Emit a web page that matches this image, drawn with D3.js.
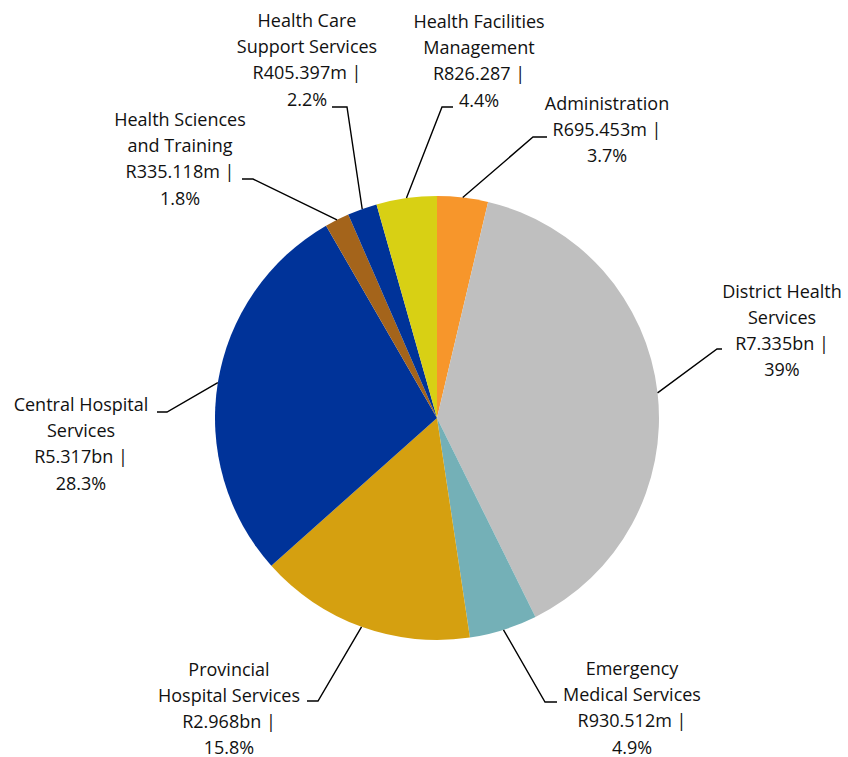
<!DOCTYPE html>
<html lang="en">
<head>
    <meta charset="UTF-8">
    <title>Health budget by programme</title>
    <script src="https://d3js.org/d3.v7.min.js"></script>
    <style>
        body { margin: 0; background: #fff; }
        .label { font-family: "Open Sans", Lato, sans-serif; font-size: 18px; fill: #111; }
        .leader { fill: none; stroke: #000; stroke-width: 1.4px; }
    </style>
</head>
<body>
    <svg width="848" height="757"></svg>
    <script>
        // programmes, clockwise from 12 o'clock
        const names = [
            ["Administration"],
            ["District Health", "Services"],
            ["Emergency", "Medical Services"],
            ["Provincial", "Hospital Services"],
            ["Central Hospital", "Services"],
            ["Health Sciences", "and Training"],
            ["Health Care", "Support Services"],
            ["Health Facilities", "Management"]
        ];
        // R millions
        const values = [695.453, 7335, 930.512, 2968, 5317, 335.118, 405.397, 826.287];
        const amountLabels = ["R695.453m |", "R7.335bn |", "R930.512m |", "R2.968bn |",
            "R5.317bn |", "R335.118m |", "R405.397m |", "R826.287 |"];
        const pctLabels = ["3.7%", "39%", "4.9%", "15.8%", "28.3%", "1.8%", "2.2%", "4.4%"];
        const colors = ["#F7962B", "#BFBFBF", "#74B0B7", "#D5A010", "#003399", "#A4641B", "#003399", "#D8D014"];

        // label layout: text centre x, first baseline y, leader elbow and end
        const labelLayout = [
            { x: 607, y: 110, elbow: [533, 137], end: [547, 137] },
            { x: 782, y: 297.5, elbow: [717, 349], end: [722, 349] },
            { x: 632, y: 675, elbow: [545, 702], end: [557, 702] },
            { x: 229, y: 675.5, elbow: [318, 701], end: [307, 701] },
            { x: 81, y: 411, elbow: [167, 412], end: [157, 412] },
            { x: 180, y: 126, elbow: [253, 179], end: [242, 179] },
            { x: 307, y: 27, elbow: [347, 107], end: [332, 107] },
            { x: 479, y: 28, elbow: [442, 107], end: [453, 107] }
        ];

        const svg = d3.select("svg");
        const cx = 437, cy = 418, radius = 222;
        const lineHeight = 26.2;

        const pie = d3.pie().sort(null).value(d => d);
        const arcs = pie(values);
        const arc = d3.arc().innerRadius(0).outerRadius(radius);

        const g = svg.append("g").attr("transform", `translate(${cx},${cy})`);
        g.selectAll("path.slice")
            .data(arcs)
            .join("path")
            .attr("class", "slice")
            .attr("d", arc)
            .attr("fill", (d, i) => colors[i]);

        // leader lines from the slice edge at mid angle
        svg.selectAll("path.leader")
            .data(arcs)
            .join("path")
            .attr("class", "leader")
            .attr("d", (d, i) => {
                const a = (d.startAngle + d.endAngle) / 2;
                const p = [cx + radius * Math.sin(a), cy - radius * Math.cos(a)];
                const L = labelLayout[i];
                return d3.line()([p, L.elbow, L.end]);
            });

        arcs.forEach((d, i) => {
            const L = labelLayout[i];
            const lines = names[i].concat([amountLabels[i], pctLabels[i]]);
            const t = svg.append("text")
                .attr("class", "label")
                .attr("text-anchor", "middle");
            lines.forEach((s, k) => {
                t.append("tspan")
                    .attr("x", L.x)
                    .attr("y", L.y + k * lineHeight)
                    .text(s);
            });
        });
    </script>
</body>
</html>
